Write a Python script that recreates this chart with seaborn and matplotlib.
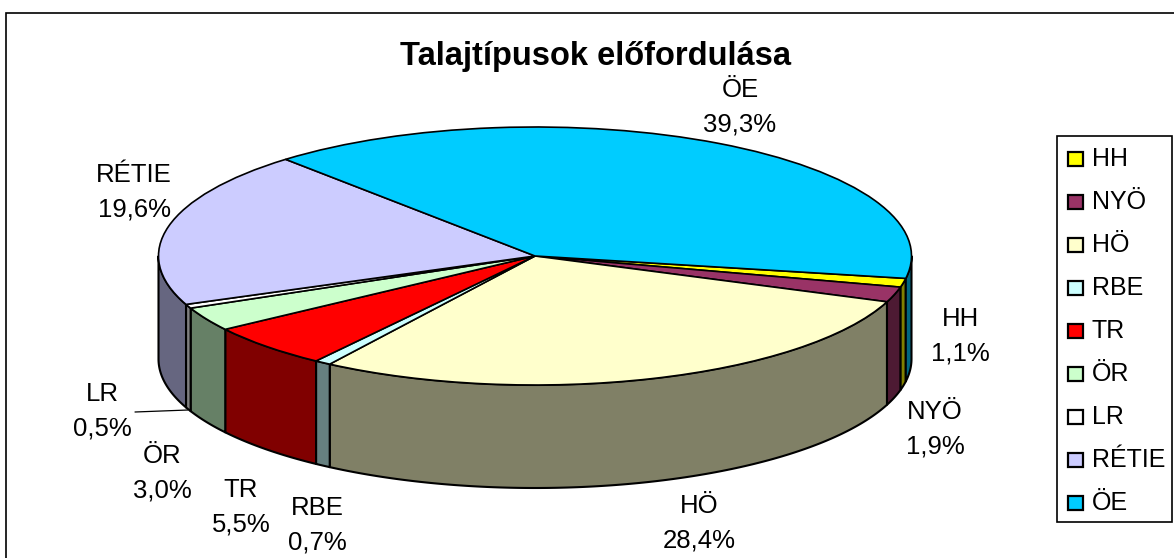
import numpy as np
import matplotlib
matplotlib.use("Agg")
import matplotlib.pyplot as plt
from matplotlib.patches import Rectangle
import seaborn as sns

categories = ["HH", "NYÖ", "HÖ", "RBE", "TR", "ÖR", "LR", "RÉTIE", "ÖE"]
values = [1.1, 1.9, 28.4, 0.7, 5.5, 3.0, 0.5, 19.6, 39.3]
colors = ["#FFFF00", "#993366", "#FFFFCC", "#CCFFFF", "#FF0000", "#CCFFCC", "#FFFFFF", "#CCCCFF", "#00CCFF"]
wall_colors = ["#808000", "#4D1A33", "#808066", "#668080", "#800000", "#668066", "#808080", "#666680", "#006680"]
label_xy = [(960, 336), (935, 429), (699, 523), (317, 525), (241, 507), (162, 473), (102, 411), (134, 192), (740, 107)]

sns.set_theme(style="white")
plt.rcParams["font.family"] = ["Liberation Sans", "DejaVu Sans"]

W, H = 1174, 558
fig = plt.figure(figsize=(W / 100, H / 100), dpi=100, facecolor="white")
ax = fig.add_axes([0, 0, 1, 1])
ax.set_xlim(0, W)
ax.set_ylim(H, 0)
ax.axis("off")

cx, cy, a, b, depth = 535, 256, 376.5, 129, 103
start = -10.0

fractions = np.array(values) / sum(values)
edges = start - 360 * np.concatenate([[0], np.cumsum(fractions)])

def pts(t):
    r = np.radians(t)
    return cx + a * np.cos(r), cy - b * np.sin(r)

# outer frame: its right and bottom edges lie outside the picture
ax.add_patch(Rectangle((6, 13), 1200, 600, fc="white", ec="black", lw=1.2, zorder=0))

# side walls: only the front half (screen angles 180..360)
for i in range(len(values)):
    hi, lo = edges[i], edges[i + 1]
    t = np.linspace(hi, lo, 200)
    t = t[np.sin(np.radians(t)) <= 0.0001]
    if len(t) < 2:
        continue
    x, y = pts(t)
    px = np.r_[x, x[::-1]]
    py = np.r_[y, (y + depth)[::-1]]
    ax.fill(px, py, fc=wall_colors[i], ec="black", lw=1.5, zorder=2, joinstyle="round")

# top face drawn through the library's pie on an inset axes stretched into an ellipse
pie_ax = fig.add_axes([(cx - a) / W, 1 - (cy + b) / H, 2 * a / W, 2 * b / H])
pie_ax.pie(values, colors=colors, startangle=start, counterclock=False, radius=1,
           wedgeprops=dict(edgecolor="black", linewidth=1.2))
pie_ax.set_aspect("auto")
pie_ax.set_xlim(-1, 1)
pie_ax.set_ylim(-1, 1)
pie_ax.patch.set_alpha(0)
for s in pie_ax.spines.values():
    s.set_visible(False)
pie_ax.set_zorder(3)

# text layer above pie
top = fig.add_axes([0, 0, 1, 1], zorder=5)
top.set_xlim(0, W)
top.set_ylim(H, 0)
top.axis("off")
top.patch.set_alpha(0)

top.text(596, 57, "Talajtípusok előfordulása", ha="center", va="center",
         fontsize=23.5, fontweight="bold", color="black")

for c, v, (x, y) in zip(categories, values, label_xy):
    top.text(x, y, f"{c}\n{v:.1f}%".replace(".", ","), ha="center", va="center",
             fontsize=18.5, color="black", linespacing=1.56)

# leader line for LR
top.plot([135, 188], [412, 410], color="black", lw=0.9)

# legend
top.add_patch(Rectangle((1057, 136), 115, 386, fc="white", ec="black", lw=1.2))
ys = np.linspace(159, 503, len(categories))
for c, col, y in zip(categories, colors, ys):
    top.add_patch(Rectangle((1068, y - 7), 15, 14, fc=col, ec="black", lw=1.6))
    top.text(1092, y, c, ha="left", va="center", fontsize=18, color="black")

fig.savefig("out.png", dpi=100)
